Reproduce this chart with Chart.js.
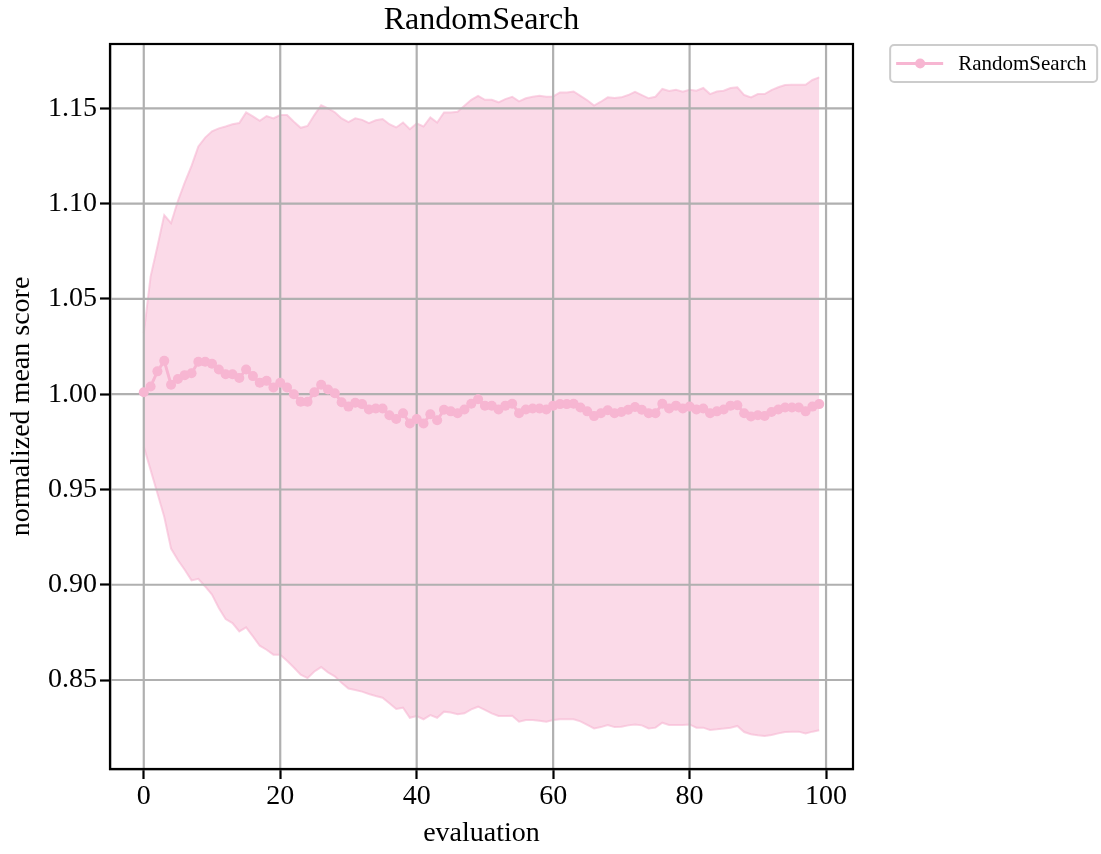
<!DOCTYPE html>
<html>
<head>
<meta charset="utf-8">
<script src="https://cdn.jsdelivr.net/npm/chart.js@4.4.0/dist/chart.umd.min.js"></script>
<style>
  html, body { margin: 0; padding: 0; background: #fff; }
  canvas { display: block; }
</style>
</head>
<body>
<canvas id="chart" width="1101" height="854"></canvas>
<script>
// Data
const seriesName = 'RandomSearch';
const evaluations = [0,1,2,3,4,5,6,7,8,9,10,11,12,13,14,15,16,17,18,19,
  20,21,22,23,24,25,26,27,28,29,30,31,32,33,34,35,36,37,38,39,
  40,41,42,43,44,45,46,47,48,49,50,51,52,53,54,55,56,57,58,59,
  60,61,62,63,64,65,66,67,68,69,70,71,72,73,74,75,76,77,78,79,
  80,81,82,83,84,85,86,87,88,89,90,91,92,93,94,95,96,97,98,99];
const meanScore = [
  1.001, 1.004, 1.012, 1.0175, 1.005, 1.008, 1.010, 1.011, 1.017, 1.017,
  1.016, 1.013, 1.0105, 1.0105, 1.0085, 1.013, 1.0095, 1.006, 1.007, 1.0035,
  1.006, 1.0035, 1.000, 0.996, 0.996, 1.001, 1.005, 1.0025, 1.0005, 0.9958,
  0.9935, 0.9955, 0.9948, 0.992, 0.9925, 0.9925, 0.989, 0.987, 0.990, 0.9846,
  0.987, 0.9846, 0.9895, 0.9863, 0.9918, 0.991, 0.990, 0.992, 0.995, 0.9974,
  0.994, 0.9939, 0.992, 0.994, 0.995, 0.990, 0.992, 0.9925, 0.9925, 0.992,
  0.994, 0.9948, 0.9948, 0.995, 0.993, 0.991, 0.9885, 0.990, 0.9916, 0.990,
  0.9907, 0.9918, 0.9933, 0.9918, 0.990, 0.990, 0.995, 0.9925, 0.994, 0.9925,
  0.9935, 0.992, 0.9925, 0.990, 0.991, 0.992, 0.994, 0.9942, 0.990, 0.9883,
  0.989, 0.9886, 0.9907, 0.992, 0.993, 0.993, 0.993, 0.991, 0.9935, 0.9948
];
const upperBand = [
  1.032, 1.0617, 1.0775, 1.094, 1.0898, 1.1014, 1.111, 1.1198, 1.130, 1.1347,
  1.138, 1.1395, 1.1405, 1.1417, 1.1423, 1.1479, 1.1458, 1.1435, 1.146, 1.1447,
  1.1465, 1.1465, 1.143, 1.1398, 1.1408, 1.1465, 1.1517, 1.150, 1.148, 1.1447,
  1.1428, 1.1448, 1.144, 1.1423, 1.1438, 1.1444, 1.1417, 1.140, 1.1426, 1.1391,
  1.1421, 1.1405, 1.1453, 1.1426, 1.1479, 1.1479, 1.1482, 1.1514, 1.1545, 1.1566,
  1.1545, 1.1545, 1.1532, 1.1549, 1.1561, 1.1537, 1.1553, 1.1561, 1.1566, 1.1561,
  1.1563, 1.1584, 1.1584, 1.1589, 1.1566, 1.1543, 1.1515, 1.1535, 1.1558, 1.1554,
  1.1558, 1.157, 1.1587, 1.157, 1.1553, 1.1561, 1.1602, 1.1591, 1.1598, 1.1587,
  1.1598, 1.1593, 1.1607, 1.1575, 1.1589, 1.1593, 1.1607, 1.1611, 1.157, 1.1558,
  1.1575, 1.1575, 1.1596, 1.1611, 1.1623, 1.1624, 1.1624, 1.1624, 1.1649, 1.1663
];
const lowerBand = [
  0.9725, 0.9603, 0.948, 0.9357, 0.919, 0.913, 0.9079, 0.9023, 0.9031, 0.8991,
  0.8948, 0.8878, 0.882, 0.8799, 0.8755, 0.8776, 0.8729, 0.868, 0.8659, 0.8633,
  0.8633, 0.8601, 0.8566, 0.8528, 0.851, 0.8545, 0.8568, 0.854, 0.8519, 0.8485,
  0.8455, 0.8448, 0.8439, 0.8427, 0.8416, 0.8407, 0.8378, 0.8348, 0.8355, 0.8302,
  0.8311, 0.8294, 0.8316, 0.8302, 0.8334, 0.8329, 0.832, 0.8325, 0.8346, 0.836,
  0.8343, 0.8325, 0.8311, 0.8311, 0.8312, 0.8281, 0.829, 0.829, 0.8286, 0.8281,
  0.829, 0.8294, 0.8294, 0.8294, 0.8283, 0.8265, 0.8246, 0.8253, 0.8264, 0.8253,
  0.8255, 0.8262, 0.8267, 0.8262, 0.8246, 0.825, 0.8276, 0.8264, 0.8264, 0.8264,
  0.8267, 0.825, 0.825, 0.8238, 0.8241, 0.8245, 0.825, 0.8259, 0.8227, 0.8215,
  0.821, 0.8206, 0.8211, 0.822, 0.8227, 0.8229, 0.8229, 0.822, 0.8229, 0.8236
];
const xTicks = [0, 20, 40, 60, 80, 100];
const yTicks = [0.85, 0.90, 0.95, 1.00, 1.05, 1.10, 1.15];

const PINK = '#f7b6d2';
const SERIF = '"Liberation Serif", "Times New Roman", serif';
const LW = 2.2;

function pts(vals) { return evaluations.map((e, i) => ({ x: e, y: vals[i] })); }

// matplotlib draws the grid above the band but under the mean line
const gridAndFrame = {
  id: 'gridAndFrame',
  beforeDatasetDraw(chart, args) {
    if (args.index !== 0) return;
    const { ctx, chartArea: a, scales: { x, y } } = chart;
    ctx.save();
    ctx.beginPath(); ctx.rect(a.left, a.top, a.right - a.left, a.bottom - a.top); ctx.clip();
    ctx.strokeStyle = '#b0b0b0'; ctx.lineWidth = LW;
    ctx.beginPath();
    xTicks.forEach(v => { const px = x.getPixelForValue(v); ctx.moveTo(px, a.top); ctx.lineTo(px, a.bottom); });
    yTicks.forEach(v => { const py = y.getPixelForValue(v); ctx.moveTo(a.left, py); ctx.lineTo(a.right, py); });
    ctx.stroke();
    ctx.restore();
  },
  afterDraw(chart) {
    const { ctx, chartArea: a } = chart;
    ctx.save();
    ctx.strokeStyle = '#000'; ctx.lineWidth = LW;
    ctx.strokeRect(a.left, a.top, a.right - a.left, a.bottom - a.top);

    // legend, outside the axes at the upper right
    const lx = a.right + 0.05 * (a.right - a.left), ly = a.top + 1, lw = 207, lh = 37;
    ctx.beginPath(); ctx.roundRect(lx, ly, lw, lh, 4);
    ctx.fillStyle = 'rgba(255,255,255,0.8)'; ctx.fill();
    ctx.strokeStyle = '#cccccc'; ctx.lineWidth = 2; ctx.stroke();
    const cy = ly + lh / 2;
    ctx.strokeStyle = PINK; ctx.lineWidth = 3;
    ctx.beginPath(); ctx.moveTo(lx + 6, cy); ctx.lineTo(lx + 53, cy); ctx.stroke();
    ctx.fillStyle = PINK;
    ctx.beginPath(); ctx.arc(lx + 30, cy, 5, 0, Math.PI * 2); ctx.fill();
    ctx.fillStyle = '#000'; ctx.font = '21px ' + SERIF;
    ctx.textBaseline = 'middle'; ctx.textAlign = 'left';
    ctx.fillText(seriesName, lx + 68, cy + 1);
    ctx.restore();
  }
};

const tickFont = { family: SERIF, size: 28 };

new Chart(document.getElementById('chart').getContext('2d'), {
  type: 'line',
  data: {
    datasets: [
      { label: seriesName, data: pts(meanScore), order: 0,
        borderColor: PINK, borderWidth: 3, tension: 0,
        pointRadius: 5, pointBackgroundColor: PINK, pointBorderWidth: 0, fill: false },
      { label: 'upper', data: pts(upperBand), order: 1,
        borderColor: 'rgba(247,182,210,0.6)', borderWidth: 2, pointRadius: 0, tension: 0,
        fill: '+1', backgroundColor: 'rgba(247,182,210,0.5)' },
      { label: 'lower', data: pts(lowerBand), order: 2,
        borderColor: 'rgba(247,182,210,0.6)', borderWidth: 2, pointRadius: 0, tension: 0,
        fill: false }
    ]
  },
  options: {
    responsive: false, devicePixelRatio: 1, animation: false,
    layout: { padding: { left: 0, right: 248, top: 0, bottom: 0 } },
    plugins: {
      legend: { display: false },
      tooltip: { enabled: false },
      title: { display: true, text: seriesName, fullSize: false, color: '#000',
        font: { family: SERIF, size: 32, weight: 'normal' }, padding: { top: 1, bottom: 4.6 } }
    },
    scales: {
      x: {
        type: 'linear', min: -4.95, max: 103.95,
        afterBuildTicks: s => { s.ticks = xTicks.map(v => ({ value: v })); },
        afterFit: s => { s.height = 85; },
        ticks: { font: tickFont, color: '#000', padding: 1, maxRotation: 0, autoSkip: false,
          callback: v => String(v) },
        grid: { drawOnChartArea: false, drawTicks: true, tickLength: 10, tickWidth: LW, tickColor: '#000' },
        border: { display: true, color: '#000', width: LW },
        title: { display: true, text: 'evaluation', color: '#000', font: tickFont, padding: { top: 0, bottom: 4 } }
      },
      y: {
        type: 'linear', min: 0.8033, max: 1.1838,
        afterBuildTicks: s => { s.ticks = yTicks.map(v => ({ value: v })); },
        afterFit: s => { s.width = 110; },
        ticks: { font: tickFont, color: '#000', padding: 3, autoSkip: false,
          callback: v => Number(v).toFixed(2) },
        grid: { drawOnChartArea: false, drawTicks: true, tickLength: 10, tickWidth: LW, tickColor: '#000' },
        border: { display: true, color: '#000', width: LW },
        title: { display: true, text: 'normalized mean score', color: '#000', font: tickFont, padding: { top: 5, bottom: 0 } }
      }
    }
  },
  plugins: [gridAndFrame]
});
</script>
</body>
</html>
